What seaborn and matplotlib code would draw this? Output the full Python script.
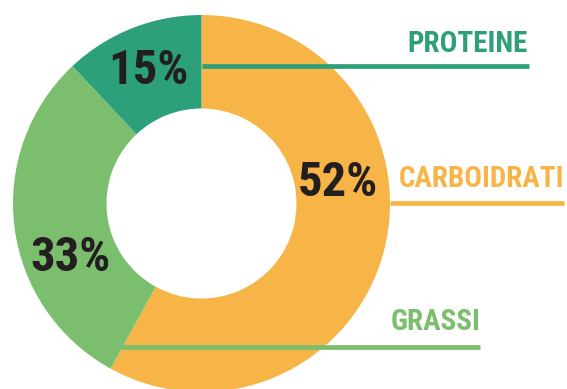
import matplotlib
matplotlib.use("Agg")
import matplotlib.pyplot as plt
from matplotlib import font_manager as fm
import seaborn as sns

# Data
categories = ["CARBOIDRATI", "GRASSI", "PROTEINE"]
shares = [58, 30, 12]                 # angular share as drawn
pct_labels = ["52%", "33%", "15%"]    # printed labels
colors = ["#F7B547", "#7BBF6E", "#2CA07A"]
label_colors = ["#F7B547", "#7BBF6E", "#2E9F78"]

sns.set_theme(style="white")
plt.rcParams['font.family'] = ['DejaVu Sans']

# pick a condensed bold face if one is installed
def pick_font():
    prefs = ["robotocondensed-bold", "liberationsansnarrow-bold",
             "dejavusanscondensed-bold", "opensanscondensed-bold"]
    files = [f.fname for f in fm.fontManager.ttflist]
    low = {f.lower().split("/")[-1].replace("_", "").replace(" ", ""): f for f in files}
    for p in prefs:
        for k, v in low.items():
            if k.startswith(p):
                return fm.FontProperties(fname=v)
    for k, v in low.items():
        if ("condensed" in k or "narrow" in k) and "bold" in k and "italic" not in k:
            return fm.FontProperties(fname=v)
    return fm.FontProperties(family="DejaVu Sans", weight="bold", stretch="condensed")

FP = pick_font()

W, H = 567, 389
fig = plt.figure(figsize=(W / 100, H / 100), dpi=100)
ax = fig.add_axes([0, 0, 1, 1])

def Y(py):
    return H - py

cx, cy, R, r = 201.5, Y(203.5), 188.5, 95
ax.pie(shares, colors=colors, startangle=90, counterclock=False,
       center=(cx, cy), radius=R,
       wedgeprops=dict(width=R - r, linewidth=0))

# percentage labels
pct_pos = [(338, 183), (71, 258), (148, 71)]
for (px, py), t in zip(pct_pos, pct_labels):
    fp = FP.copy()
    fp.set_size(35)
    ax.text(px, Y(py), t, ha="center", va="center", fontproperties=fp,
            color="#231F20")

# leader lines and category labels
lines = [((390, 564), 203), ((121, 480), 347), ((202, 529), 66)]
lab_pos = [(564, 179), (480, 322), (528, 44)]
for (xs, ly), (lx, lyy), name, c in zip(lines, lab_pos, categories, label_colors):
    ax.plot(xs, [Y(ly), Y(ly)], color=c, lw=3.4, solid_capstyle="butt")
    fp = FP.copy()
    fp.set_size(21)
    ax.text(lx, Y(lyy), name, ha="right", va="center", fontproperties=fp,
            color=c)

ax.set_xlim(0, W)
ax.set_ylim(0, H)
ax.set_aspect("auto")
ax.axis("off")
fig.savefig("out.png", dpi=100)
